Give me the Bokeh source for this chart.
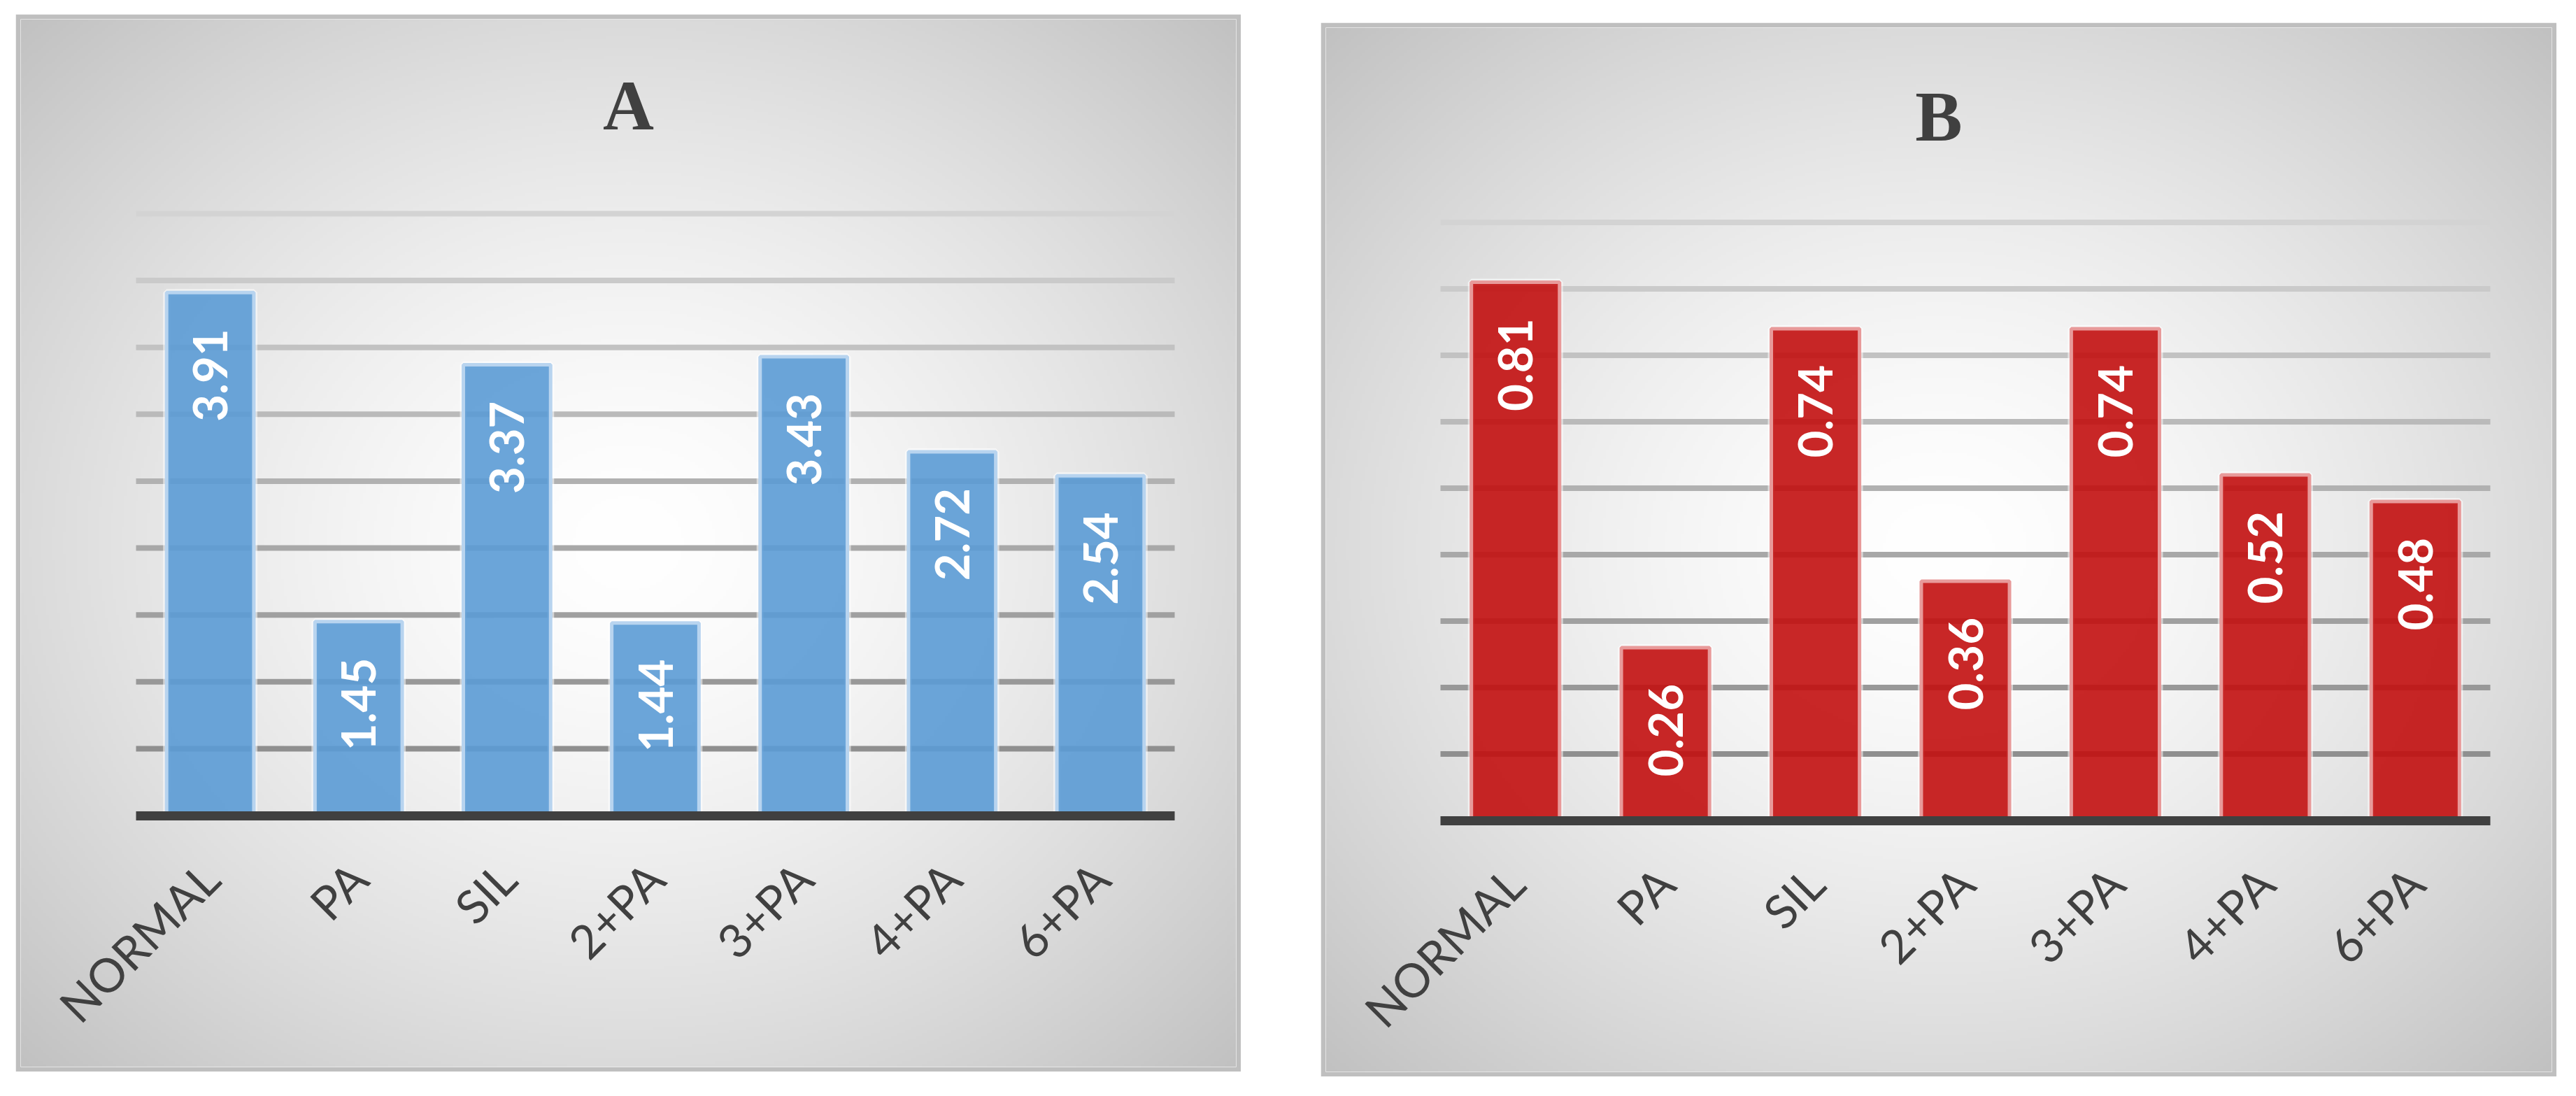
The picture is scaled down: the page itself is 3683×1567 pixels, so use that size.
import numpy as np
from math import pi
from bokeh.plotting import figure
from bokeh.models import Range1d, FixedTicker, Label, ColumnDataSource
from bokeh.layouts import row
from bokeh.embed import file_html
from bokeh.resources import INLINE
from bokeh.core.properties import value

# ---------------- data ----------------
categories = ["NORMAL", "PA", "SIL", "2+PA", "3+PA", "4+PA", "6+PA"]
values_a = [3.91, 1.45, 3.37, 1.44, 3.43, 2.72, 2.54]
values_b = [0.81, 0.26, 0.74, 0.36, 0.74, 0.52, 0.48]
grid_a = [0.5, 1.0, 1.5, 2.0, 2.5, 3.0, 3.5, 4.0, 4.5]
grid_b = [0.1, 0.2, 0.3, 0.4, 0.5, 0.6, 0.7, 0.8, 0.9]
title_a = "A"
title_b = "B"

LABEL_FONT = "Lato"
DARK = "#404040"
BORDER = 7


def hex_interp(c0, c1, t):
    a = [int(c0[i:i + 2], 16) for i in (1, 3, 5)]
    b = [int(c1[i:i + 2], 16) for i in (1, 3, 5)]
    return "#%02x%02x%02x" % tuple(int(round(a[k] + (b[k] - a[k]) * t)) for k in range(3))


def make_panel(title, vals, ticks, fill, edge, fig_w, fig_h,
               plot_left, plot_right, zero_y, top_y, title_base, fmt):
    n = len(categories)
    x_per = (plot_right - plot_left) / n
    x0 = (BORDER - plot_left) / x_per
    x1 = (fig_w - BORDER - plot_left) / x_per
    top_val = ticks[-1]
    y_per = (zero_y - top_y) / top_val
    y1 = (zero_y - BORDER) / y_per
    y0 = (zero_y - (fig_h - BORDER)) / y_per

    p = figure(width=fig_w, height=fig_h, output_backend="svg", toolbar_location=None,
               x_range=Range1d(x0, x1), y_range=Range1d(y0, y1),
               min_border=BORDER, min_border_left=BORDER, min_border_right=BORDER,
               min_border_top=BORDER, min_border_bottom=BORDER,
               y_axis_location=None)
    p.border_fill_color = "#bfbfbf"
    p.background_fill_color = "white"
    p.outline_line_color = None
    p.grid.visible = False

    # radial gradient background of the chart area
    fw, fh = fig_w - 2 * BORDER, fig_h - 2 * BORDER
    nx, ny = fw // 4, fh // 4
    yy, xx = np.mgrid[0:ny, 0:nx]
    u = (xx + 0.5) / nx * 2 - 1
    v = (yy + 0.5) / ny * 2 - 1
    r = np.clip(np.sqrt(u ** 2 + v ** 2) / np.sqrt(2), 0, 1)
    g = (255 - 62 * r ** 1.5).astype(np.uint8)
    img = np.empty((ny, nx), dtype=np.uint32)
    view = img.view(dtype=np.uint8).reshape((ny, nx, 4))
    view[..., 0] = g
    view[..., 1] = g
    view[..., 2] = g
    view[..., 3] = 255
    p.image_rgba(image=[img], x=x0, y=y0, dw=x1 - x0, dh=y1 - y0)

    # gridlines (lighter towards the top)
    m = len(ticks)
    gcolors = [hex_interp("#8f8f8f", "#d3d3d3", i / (m - 1)) for i in range(m)]
    p.segment(x0=[0] * m, x1=[n] * m, y0=ticks, y1=ticks,
              line_color=gcolors, line_width=8)

    xs = [i + 0.5 for i in range(n)]
    src = ColumnDataSource(dict(x=xs, top=vals, lab=[fmt % v for v in vals]))
    # soft glow + bars
    p.vbar(x="x", top="top", bottom=0, width=0.588, source=src,
           fill_color=None, line_color="white", line_width=10, line_alpha=0.55)
    p.vbar(x="x", top="top", bottom=0, width=0.588, source=src,
           fill_color=fill, fill_alpha=0.9, line_color=edge, line_width=5)

    # value labels inside the bar ends
    p.text(x="x", y="top", text="lab", source=src, angle=pi / 2,
           text_align="right", text_baseline="middle", y_offset=52,
           text_color="white", text_font=value(LABEL_FONT), text_font_style="bold",
           text_font_size="67px")

    # category axis on the zero line
    ax = p.xaxis[0]
    ax.fixed_location = 0
    ax.bounds = (0, n)
    ax.ticker = FixedTicker(ticks=xs)
    ax.major_label_overrides = {x: c for x, c in zip(xs, categories)}
    ax.axis_line_width = 13
    ax.axis_line_color = DARK
    ax.axis_line_cap = "butt"
    ax.major_tick_line_color = None
    ax.minor_tick_line_color = None
    ax.major_tick_out = 0
    ax.major_tick_in = 0
    ax.major_label_standoff = 78
    ax.major_label_orientation = pi / 4
    ax.major_label_text_font = LABEL_FONT
    ax.major_label_text_font_size = "67px"
    ax.major_label_text_color = DARK

    p.add_layout(Label(x=(x0 + x1) / 2, y=(zero_y - title_base) / y_per, text=title,
                       text_align="center", text_baseline="alphabetic",
                       text_font="Liberation Serif", text_font_style="bold",
                       text_font_size="101px", text_color=DARK))
    return p


pa = make_panel(title_a, values_a, grid_a, "#5b9bd5", "#b8d4ef", 1752, 1512,
                172, 1657, 1145.5, 285, 130, "%.2f")
pb = make_panel(title_b, values_b, grid_b, "#c20f0f", "#e89a9a", 1767, 1507,
                171, 1672, 1140.5, 285.5, 134, "%.2f")
pa.margin = (20, 0, 0, 22)
pb.margin = (32, 0, 0, 114)

layout = row(pa, pb)
open("out.html", "w").write(file_html(layout, INLINE))
